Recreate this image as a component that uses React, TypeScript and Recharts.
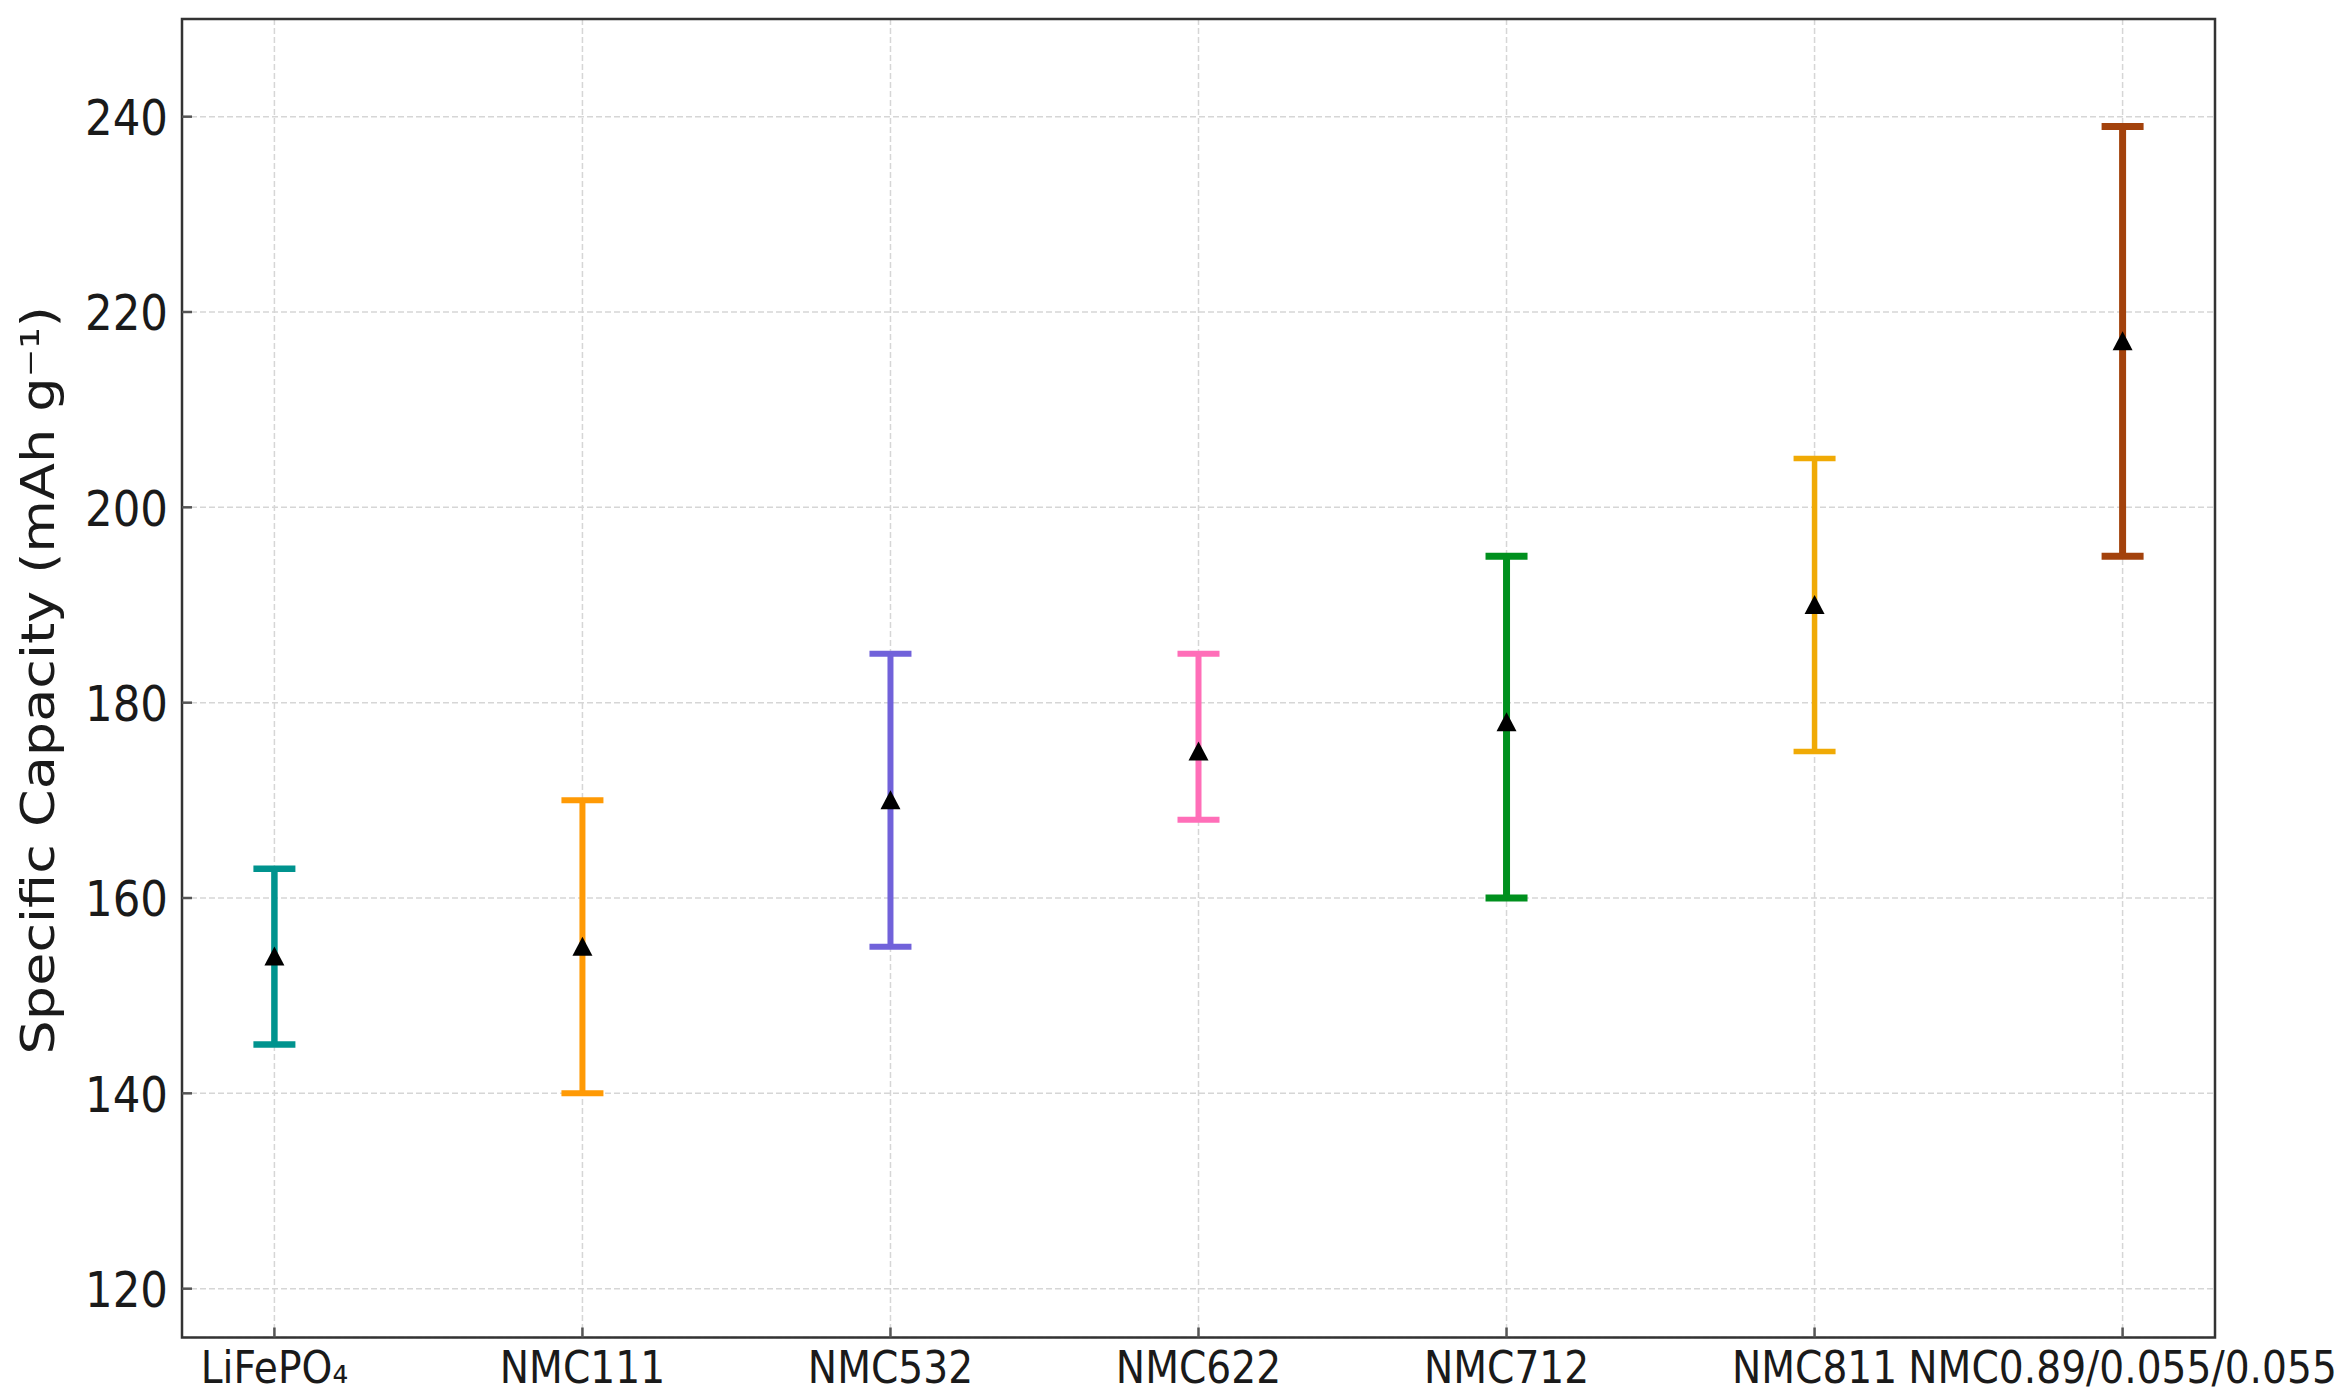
import React from 'react';
import {
  ScatterChart,
  Scatter,
  XAxis,
  YAxis,
  CartesianGrid,
  ErrorBar,
  ReferenceArea,
  Label,
} from 'recharts';

const categories = ['LiFePO₄', 'NMC111', 'NMC532', 'NMC622', 'NMC712', 'NMC811', 'NMC0.89/0.055/0.055'];
const means = [154, 155, 170, 175, 178, 190, 217];
const lows = [145, 140, 155, 168, 160, 175, 195];
const highs = [163, 170, 185, 185, 195, 205, 239];
const colors = ['#00938E', '#FF9A05', '#7162DA', '#FF6EB8', '#00901E', '#F0AA05', '#A3420C'];
const lineWidths = [6.5, 6, 6, 6, 7, 5.5, 7];
const yTicks = [120, 140, 160, 180, 200, 220, 240];
const xTicks = [0, 1, 2, 3, 4, 5, 6];

const W = 2348;
const H = 1397;
const FONT = 'DejaVu Sans';
const STRETCH = 1.15;
const AXIS_COLOR = '#333333';
const TICK_LEN = 10;

const seriesData = categories.map((c, i) => [
  { x: i, y: means[i], err: [means[i] - lows[i], highs[i] - means[i]] },
]);

const Triangle = (p: any) => {
  const { cx, cy } = p;
  if (cx == null || cy == null) return null;
  return (
    <polygon
      points={`${cx},${cy - 10} ${cx - 10},${cy + 9} ${cx + 10},${cy + 9}`}
      fill="#000"
    />
  );
};

const YTick = (props: any) => {
  const { x, y, payload } = props;
  const fs = 43.5;
  return (
    <g>
      <line x1={x} x2={x + TICK_LEN} y1={y} y2={y} stroke="#555" strokeWidth={2.5} />
      <g transform={`translate(${x - 14},${y}) scale(1,${STRETCH})`}>
        <text x={0} y={0} dy={0.364 * fs} textAnchor="end" fontFamily={FONT} fontSize={fs} fill="#1a1a1a">
          {payload.value}
        </text>
      </g>
    </g>
  );
};

const XTick = (props: any) => {
  const { x, y, payload } = props;
  const fs = 39.2;
  return (
    <g>
      <line x1={x} x2={x} y1={y} y2={y - TICK_LEN} stroke="#555" strokeWidth={2.5} />
      <g transform={`translate(${x},${y + 45.5}) scale(1,${STRETCH})`}>
        <text x={0} y={0} textAnchor="middle" fontFamily={FONT} fontSize={fs} fill="#1a1a1a">
          {categories[payload.value]}
        </text>
      </g>
    </g>
  );
};

const YLabel = (props: any) => {
  const vb = props.viewBox || {};
  const cy = (vb.y || 0) + (vb.height || 0) / 2;
  return (
    <g transform={`translate(54,${cy + 2}) rotate(-90) scale(${STRETCH},1)`}>
      <text x={0} y={0} textAnchor="middle" fontFamily={FONT} fontSize={47} fill="#1a1a1a">
        Specific Capacity (mAh g⁻¹)
      </text>
    </g>
  );
};

export default function App() {
  return (
    <div style={{ position: 'absolute', left: 0, top: 0, width: W, height: H, background: '#fff' }}>
      <ScatterChart
        width={W}
        height={H}
        margin={{ top: 19, right: 133, left: 0, bottom: 0 }}
      >
        <CartesianGrid stroke="#d6d6d6" strokeWidth={1.5} strokeDasharray="6 3" />
        <XAxis
          type="number"
          dataKey="x"
          domain={[-0.3, 6.3]}
          ticks={xTicks}
          allowDataOverflow
          height={59.5}
          tickSize={0}
          tickMargin={0}
          tickLine={false}
          axisLine={false}
          tick={<XTick />}
          interval={0}
        />
        <YAxis
          type="number"
          dataKey="y"
          domain={[115, 250]}
          ticks={yTicks}
          allowDataOverflow
          width={182}
          tickSize={0}
          tickMargin={0}
          tickLine={false}
          axisLine={false}
          tick={<YTick />}
          interval={0}
        >
          <Label content={<YLabel />} />
        </YAxis>
        <ReferenceArea
          x1={-0.3}
          x2={6.3}
          y1={115}
          y2={250}
          fill="none"
          fillOpacity={0}
          stroke={AXIS_COLOR}
          strokeWidth={2.5}
          ifOverflow="visible"
        />
        {seriesData.map((d, i) => (
          <Scatter
            key={categories[i]}
            data={d}
            fill="#000"
            shape={<Triangle />}
            isAnimationActive={false}
          >
            <ErrorBar
              dataKey="err"
              direction="y"
              width={21}
              stroke={colors[i]}
              strokeWidth={lineWidths[i]}
              isAnimationActive={false}
            />
          </Scatter>
        ))}
      </ScatterChart>
    </div>
  );
}
